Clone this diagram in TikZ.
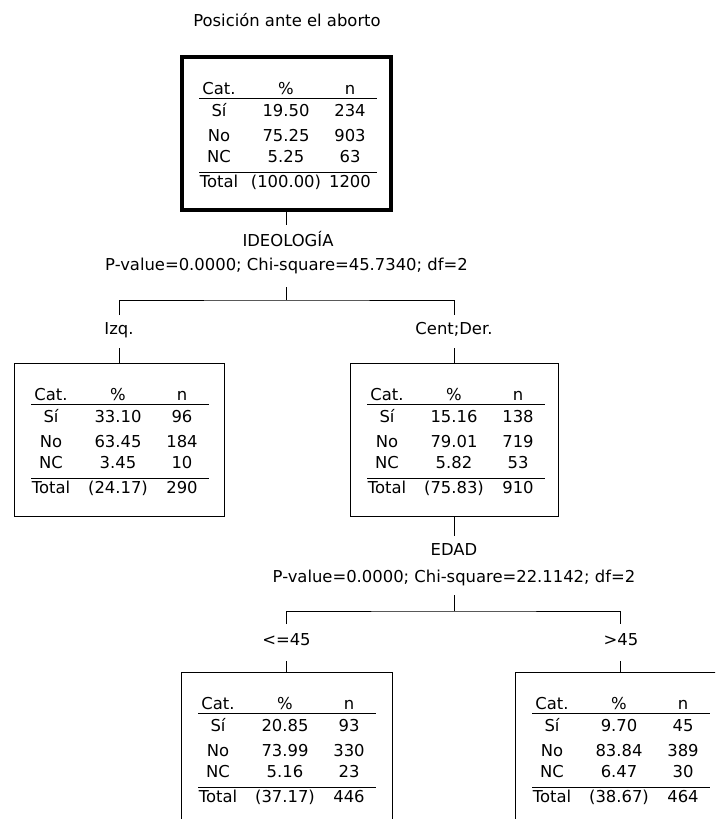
\documentclass[tikz,border=0pt]{standalone}
\usepackage{fontspec}
\setmainfont{DejaVu Sans}
\newcommand\tabfont{\fontsize{16.4pt}{19pt}\selectfont}

\tikzset{
  box/.style={draw=black, line width=1pt, anchor=north west, inner sep=0pt, outer sep=0pt, minimum height=153pt},
  rootbox/.style={box, line width=4pt},
  cell/.style={anchor=base, inner sep=0pt, font=\tabfont},
  tlabel/.style={anchor=base, inner sep=0pt, font=\tabfont},
  link/.style={draw=black, line width=1pt},
  hrule/.style={draw=black, line width=1.2pt},
}

% Category table inside a box:
% #1 box node, #2-#7 pct/n for Sí, No, NC, #8 total pct, #9 total n
\newcommand\statrows[9]{%
  \begin{scope}[shift={(#1.north west)}]
    \node[cell] (#1-hc) at (37,37) {Cat.};
    \node[cell] (#1-hp) at (104,37) {\%};
    \node[cell] (#1-hn) at (168,37) {n};
    \draw[hrule] (17,41.5) -- (195,41.5);
    \foreach \c/\p/\n/\y [count=\i] in {Sí/#2/#3/59, No/#4/#5/84, NC/#6/#7/105.5} {
      \node[cell] (#1-c\i) at (37,\y) {\c};
      \node[cell] (#1-p\i) at (104,\y) {\p};
      \node[cell] (#1-n\i) at (168,\y) {\n};
    }
    \draw[hrule] (17,115.5) -- (195,115.5);
    \node[cell] (#1-tc) at (37,130) {Total};
    \node[cell] (#1-tp) at (104,130) {#8};
    \node[cell] (#1-tn) at (168,130) {#9};
  \end{scope}%
}

\begin{document}
\begin{tikzpicture}[x=1pt, y=-1pt]
  \useasboundingbox (0,0) rectangle (715,819);
  \clip (0,0) rectangle (715,819);
  \fill[white] (0,0) rectangle (715,819);

  % title
  \node[tlabel] (title) at (287,27) {Posición ante el aborto};

  % boxes
  \node[rootbox, minimum width=209pt] (root)  at (182,57)  {};
  \node[box, minimum width=210pt]     (izq)   at (14,363)  {};
  \node[box, minimum width=208pt]     (cder)  at (350,363) {};
  \node[box, minimum width=211pt]     (young) at (181,672) {};
  \node[box, minimum width=210pt]     (old)   at (515,672) {};

  \statrows{root}{19.50}{234}{75.25}{903}{5.25}{63}{(100.00)}{1200}
  \statrows{izq}{33.10}{96}{63.45}{184}{3.45}{10}{(24.17)}{290}
  \statrows{cder}{15.16}{138}{79.01}{719}{5.82}{53}{(75.83)}{910}
  \statrows{young}{20.85}{93}{73.99}{330}{5.16}{23}{(37.17)}{446}
  \statrows{old}{9.70}{45}{83.84}{389}{6.47}{30}{(38.67)}{464}

  % first split
  \node[tlabel] (ideo)   at (288,246)   {IDEOLOGÍA};
  \node[tlabel] (ideo-p) at (286.5,270) {P-value=0.0000; Chi-square=45.7340; df=2};
  \node[tlabel] (izq-l)  at (119,334)   {Izq.};
  \node[tlabel] (cder-l) at (454,334)   {Cent;Der.};

  \coordinate (root-out)   at (286.5,225);
  \coordinate (ideo-in)    at (286.5,287);
  \coordinate (ideo-fork)  at (286.5,300);
  \coordinate (izq-tip)    at (119,315);
  \coordinate (cder-tip)   at (454,315);
  \coordinate (izq-in)     at (119,348);
  \coordinate (cder-in)    at (454,348);

  \draw[link] (root.south) -- (root-out);
  \draw[link] (ideo-in) -- (ideo-fork);
  \draw[link] (izq-tip) |- (ideo-fork) -| (cder-tip);
  \draw[link] (izq-in) -- (izq.north);
  \draw[link] (cder-in) -- (cder.north);

  % second split
  \node[tlabel] (edad)    at (454,555)   {EDAD};
  \node[tlabel] (edad-p)  at (454,582)   {P-value=0.0000; Chi-square=22.1142; df=2};
  \node[tlabel] (young-l) at (286.5,645) {<=45};
  \node[tlabel] (old-l)   at (621,645)   {>45};

  \coordinate (cder-out)   at (454,536);
  \coordinate (edad-in)    at (454,595);
  \coordinate (edad-fork)  at (454,611);
  \coordinate (young-tip)  at (286.5,624);
  \coordinate (old-tip)    at (620,624);
  \coordinate (young-in)   at (286.5,661);
  \coordinate (old-in)     at (620,661);

  \draw[link] (cder.south) -- (cder-out);
  \draw[link] (edad-in) -- (edad-fork);
  \draw[link] (young-tip) |- (edad-fork) -| (old-tip);
  \draw[link] (young-in) -- (young.north);
  \draw[link] (old-in) -- (old.north);
\end{tikzpicture}
\end{document}
